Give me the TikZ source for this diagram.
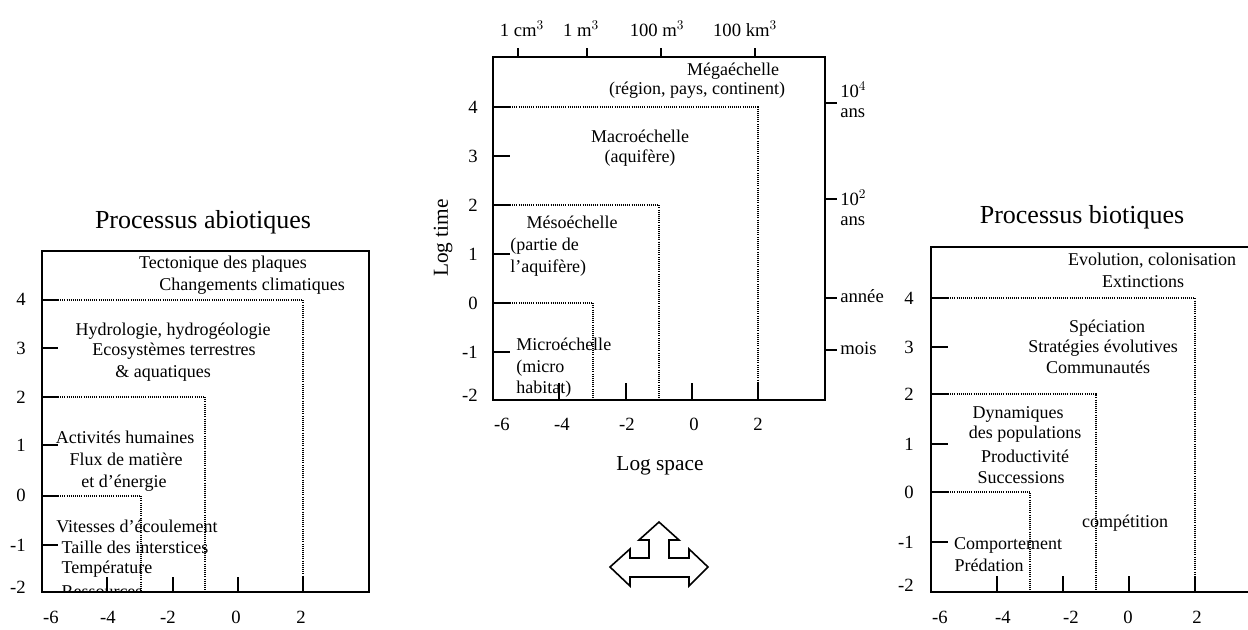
\documentclass[tikz,border=0pt]{standalone}
\usepackage{fontspec}
\setmainfont{Liberation Serif}
\begin{document}
\begin{tikzpicture}[x=0.75pt,y=-0.75pt,
  axis/.style={line width=1.3pt, line cap=rect},
  tk/.style={line width=1.2pt},
  dotl/.style={line width=0.9pt, dash pattern=on 0.7pt off 0.9pt},
  lab/.style={inner sep=0pt, font=\fontsize{13.5}{16}\selectfont, anchor=base},
  labw/.style={lab, anchor=base west},
  num/.style={inner sep=0pt, font=\fontsize{14}{16}\selectfont, anchor=base},
  nume/.style={num, anchor=base east},
  ttl/.style={inner sep=0pt, font=\fontsize{19.5}{22}\selectfont, anchor=base},
  axl/.style={inner sep=0pt, font=\fontsize{16}{18}\selectfont, anchor=base}]
\useasboundingbox (0,0) rectangle (1248,629);

% ================= LEFT PANEL =================
\node[ttl] (tA) at (203,228) {Processus abiotiques};
\draw[axis] (42,251) rectangle (369,592);
\foreach \y in {300,348,397,445,496,545} \draw[tk] (42,\y) -- (58,\y);
\foreach \x in {107,173,238,303} \draw[tk] (\x,592) -- (\x,577);
\draw[dotl] (58,300) -- (303,300) -- (303,592);
\draw[dotl] (58,397) -- (205,397) -- (205,592);
\draw[dotl] (58,496) -- (141,496) -- (141,592);
\foreach \v/\y in {4/305,3/354,2/403,1/451,0/501,-1/551,-2/593} \node[nume] at (26,\y) {\v};
\foreach \v/\x in {-6/51,-4/108,-2/168,0/236,2/301} \node[num] at (\x,623) {\v};
\node[lab] (a1) at (223,268) {Tectonique des plaques};
\node[lab] (a2) at (252,290) {Changements climatiques};
\node[lab] (a3) at (173,335) {Hydrologie, hydrogéologie};
\node[lab] (a4) at (174,355) {Ecosystèmes terrestres};
\node[lab] (a5) at (163,377) {\& aquatiques};
\node[lab] (a6) at (125,443) {Activités humaines};
\node[lab] (a7) at (126,465) {Flux de matière};
\node[lab] (a8) at (124,487) {et d’énergie};
\node[lab] (a9) at (137,532) {Vitesses d’écoulement};
\node[lab] (a10) at (135,553) {Taille des interstices};
\node[lab] (a11) at (107,573) {Température};
\begin{scope}
  \clip (42,251) rectangle (369,591.5);
  \node[lab] (a12) at (102,597) {Ressources};
\end{scope}

% ================= CENTER PANEL =================
\draw[axis] (493,57) rectangle (825,400);
\foreach \y in {107,156,205,254,303,352} \draw[tk] (493,\y) -- (510,\y);
\foreach \x in {559,626,692,758} \draw[tk] (\x,400) -- (\x,383);
\foreach \x in {518,587,661,755} \draw[tk] (\x,57) -- (\x,48);
\foreach \y in {103,199,298,350} \draw[tk] (825,\y) -- (837,\y);
\draw[dotl] (510,107) -- (758,107) -- (758,400);
\draw[dotl] (510,205) -- (659,205) -- (659,400);
\draw[dotl] (510,303) -- (593,303) -- (593,400);
\foreach \v/\y in {4/113,3/162,2/211,1/260,0/309,-1/358,-2/401} \node[nume] at (478,\y) {\v};
\foreach \v/\x in {-6/502,-4/562,-2/627,0/694,2/758} \node[num] at (\x,430) {\v};
\node[num] (s1) at (522,36) {1 cm$^3$};
\node[num] (s2) at (581,36) {1 m$^3$};
\node[num] (s3) at (657,36) {100 m$^3$};
\node[num] (s4) at (745,36) {100 km$^3$};
\node[num, anchor=base west] (r1) at (840,97) {10$^4$};
\node[num, anchor=base west] (r2) at (840,117) {ans};
\node[num, anchor=base west] (r3) at (840,205) {10$^2$};
\node[num, anchor=base west] (r4) at (840,225) {ans};
\node[num, anchor=base west] (r5) at (840,302) {année};
\node[num, anchor=base west] (r6) at (840,354) {mois};
\node[axl, rotate=90, anchor=center] (lt) at (443,238) {Log time};
\node[axl] (ls) at (660,470) {Log space};
\node[lab] (c1) at (733,75) {Mégaéchelle};
\node[lab] (c2) at (697,94) {(région, pays, continent)};
\node[lab] (c3) at (640,142) {Macroéchelle};
\node[lab] (c4) at (640,162) {(aquifère)};
\node[lab] (c5) at (572,228) {Mésoéchelle};
\node[labw] (c6) at (510,250) {(partie de};
\node[labw] (c7) at (510,272) {l’aquifère)};
\node[labw] (c8) at (516,350) {Microéchelle};
\node[labw] (c9) at (516,372) {(micro};
\node[labw] (c10) at (516,393) {habitat)};

% arrow symbol
\draw[line width=1.2pt, line join=miter, fill=white]
  (659,522) -- (679,540) -- (669,540) -- (669,558) -- (689,558) -- (689,549)
  -- (708,567) -- (689,586) -- (689,577) -- (630,577) -- (630,586) -- (610,567)
  -- (630,549) -- (630,558) -- (649,558) -- (649,540) -- (639,540) -- cycle;

% ================= RIGHT PANEL =================
\node[ttl] (tB) at (1082,223) {Processus biotiques};
\draw[axis] (1248,247) -- (931,247) -- (931,592) -- (1248,592);
\foreach \y in {298,347,394,444,492,542} \draw[tk] (931,\y) -- (948,\y);
\foreach \x in {997,1063,1129,1195} \draw[tk] (\x,592) -- (\x,576);
\draw[dotl] (948,298) -- (1195,298) -- (1195,592);
\draw[dotl] (948,394) -- (1096,394) -- (1096,592);
\draw[dotl] (948,492) -- (1030,492) -- (1030,592);
\foreach \v/\y in {4/304,3/353,2/400,1/450,0/498,-1/548,-2/591} \node[nume] at (914,\y) {\v};
\foreach \v/\x in {-6/940,-4/1003,-2/1071,0/1128,2/1197} \node[num] at (\x,623) {\v};
\node[lab] (b1) at (1152,265) {Evolution, colonisation};
\node[lab] (b2) at (1143,287) {Extinctions};
\node[lab] (b3) at (1107,332) {Spéciation};
\node[lab] (b4) at (1103,352) {Stratégies évolutives};
\node[lab] (b5) at (1098,373) {Communautés};
\node[lab] (b6) at (1018,418) {Dynamiques};
\node[lab] (b7) at (1025,438) {des populations};
\node[lab] (b8) at (1025,462) {Productivité};
\node[lab] (b9) at (1021,483) {Successions};
\node[lab] (b10) at (1125,527) {compétition};
\node[lab] (b11) at (1008,549) {Comportement};
\node[lab] (b12) at (989,571) {Prédation};
\end{tikzpicture}
\end{document}
